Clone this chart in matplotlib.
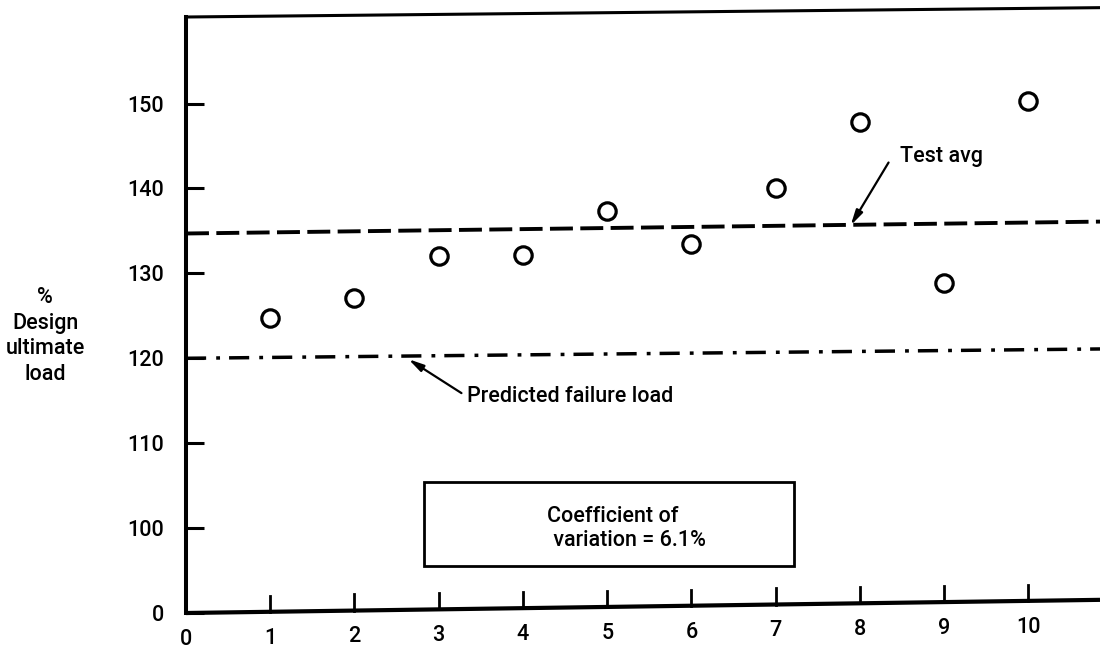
import numpy as np
import matplotlib
matplotlib.use("Agg")
import matplotlib.pyplot as plt
from matplotlib.patches import Rectangle

plt.rcParams['font.family'] = ['Roboto', 'DejaVu Sans']
plt.rcParams['font.weight'] = 'medium'

# Veriler
specimen = [1, 2, 3, 4, 5, 6, 7, 8, 9, 10]
pct_load = [124.8, 127.1, 132.1, 132.2, 137.4, 133.5, 140.0, 147.8, 128.9, 150.3]

x_span = [0, 10.85]
test_avg = [134.7, 136.1]        # dashed line, slightly tilted in the scan
predicted = [120.0, 121.1]       # dash-dot line
axis_base = [90.0, 91.55]        # x axis line (tilted in the scan)
top_edge = [160.2, 161.3]

y_ticks = [90, 100, 110, 120, 130, 140, 150]
y_labels = ["0", "100", "110", "120", "130", "140", "150"]
x_ticks = [0, 1, 2, 3, 4, 5, 6, 7, 8, 9, 10]

fs = 15.5

fig = plt.figure(figsize=(11, 6.52), dpi=100)
ax = fig.add_axes([186 / 1100, 39 / 652, 914 / 1100, 596 / 652])
ax.set_xlim(x_span)
ax.set_ylim(90, 160.2)

# spines: only the left one is a real spine
for s in ["top", "right", "bottom"]:
    ax.spines[s].set_visible(False)
ax.spines["left"].set_linewidth(2.9)

ax.set_yticks(y_ticks)
ax.set_yticklabels(y_labels, fontsize=fs)
ax.tick_params(axis="y", direction="in", length=13, width=2.2, pad=16)
ax.tick_params(axis="x", length=0, labelbottom=False)

# tilted x axis + ticks + labels
ax.plot(x_span, axis_base, color="black", lw=3.0, solid_capstyle="butt", clip_on=False)
ax.plot(x_span, top_edge, color="black", lw=2.2, clip_on=False)
for t in x_ticks:
    base = np.interp(t, x_span, axis_base)
    if t > 0:
        ax.plot([t, t], [base, base + 1.9], color="black", lw=2.0, clip_on=False)
    ax.text(t, base - 3.1, str(t), ha="center", va="center", fontsize=fs, clip_on=False)

# lines
ax.plot(x_span, test_avg, color="black", lw=2.8, dashes=(5.9, 1.9), clip_on=False)
ax.plot(x_span, predicted, color="black", lw=2.5, dashes=(5.8, 2.9, 1.1, 2.6), clip_on=False)

# points
ax.plot(specimen, pct_load, linestyle="none", marker="o", markersize=12.5,
        markerfacecolor="white", markeredgecolor="black", markeredgewidth=2.3)

# annotations
arrow = dict(arrowstyle="-|>,head_length=0.9,head_width=0.22", color="black",
             lw=1.6, shrinkA=0, shrinkB=0)
ax.annotate("", xy=(7.89, 135.65), xytext=(8.34, 143.06), arrowprops=arrow)
ax.text(8.47, 143.76, "Test avg", fontsize=fs, ha="left", va="center")
ax.annotate("", xy=(2.64, 119.9), xytext=(3.27, 115.9), arrowprops=arrow)
ax.text(3.34, 115.5, "Predicted failure load", fontsize=fs, ha="left", va="center")

# text box
ax.add_patch(Rectangle((2.83, 95.5), 4.39, 9.9, fill=False, lw=2.0, edgecolor="black"))
ax.text(4.28, 101.4, "Coefficient of", fontsize=fs, ha="left", va="center")
ax.text(4.30, 98.5, " variation = 6.1%", fontsize=fs, ha="left", va="center")

# y label
fig.text(45 / 1100, 1 - 336 / 652, "%\nDesign\nultimate\nload", fontsize=fs,
         ha="center", va="center", linespacing=1.3)

fig.savefig("out.png", dpi=100)
